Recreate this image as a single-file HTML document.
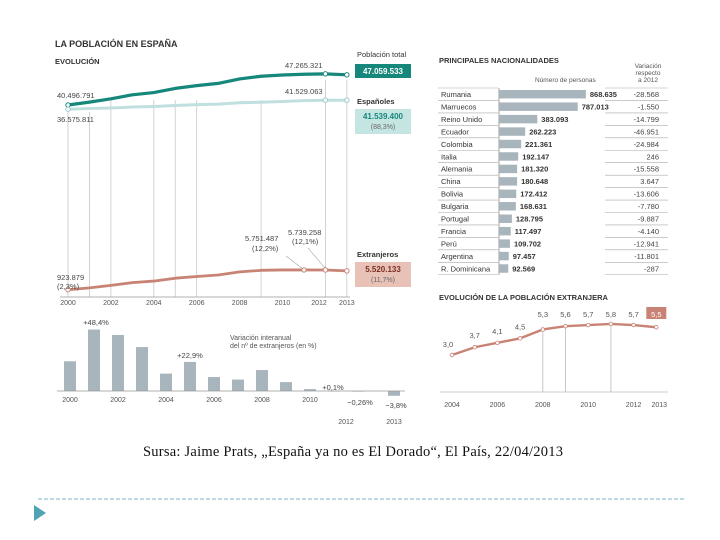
<!DOCTYPE html>
<html><head><meta charset="utf-8">
<style>
body{margin:0;background:#fff;}
svg{display:block;font-family:"Liberation Sans",sans-serif;}
</style></head>
<body>
<svg id="s" width="720" height="540" viewBox="0 0 720 540">
<text x="55" y="47" font-size="9" font-weight="bold" fill="#333">LA POBLACIÓN EN ESPAÑA</text>
<text x="55" y="64" font-size="7.5" font-weight="bold" fill="#333">EVOLUCIÓN</text>
<g id="topchart"></g>
<g id="bars"></g>
<g id="tbl"></g>
<g id="ext"></g>
<text x="143" y="456" font-size="14.5" textLength="420" lengthAdjust="spacing" font-family="Liberation Serif,serif" fill="#111">Sursa: Jaime Prats, „España ya no es El Dorado“, El País, 22/04/2013</text>
<line x1="38" y1="499" x2="686" y2="499" stroke="#7fb3c4" stroke-dasharray="4,2"/>
<polygon points="34,505 46,513 34,521" fill="#4fa3b5"/>
</svg>
<script>
const NS="http://www.w3.org/2000/svg";
function mk(p,t,a,txt){const e=document.createElementNS(NS,t);for(const k in a)e.setAttribute(k,a[k]);if(txt!=null)e.textContent=txt;p.appendChild(e);return e;}

// ===== Top line chart data =====
const years=[2000,2001,2002,2003,2004,2005,2006,2007,2008,2009,2010,2011,2012,2013];
const totalPop=[40.50,41.12,41.84,42.72,43.20,44.11,44.71,45.20,46.16,46.75,47.02,47.19,47.27,47.06];
const spanishPop=[39.58,39.75,39.86,40.06,40.17,40.38,40.57,40.69,40.99,41.10,41.27,41.44,41.53,41.54];
const foreignPop=[0.92,1.37,1.98,2.66,3.03,3.73,4.14,4.52,5.27,5.65,5.75,5.75,5.74,5.52];
const topTickYears=[2000,2002,2004,2006,2008,2010,2012,2013];
const gridYears=[2000,2001,2002,2004,2005,2006,2009,2012,2013];

const topG=document.getElementById('topchart');
const tx=y=>68+(y-2000)*21.45;
const tyHigh=v=>105-(v-40.5)*4.6;
const tyLow=v=>293.5-v*4.1;
gridYears.forEach((y,i)=>{const l=mk(topG,'line',{x1:tx(y),x2:tx(y),y1:y<=2001?112:(y>=2012?80:100),y2:297,stroke:'#c8c8c8','stroke-width':0.8});

});
{const l=mk(topG,'line',{x1:60,x2:350,y1:297,y2:297,stroke:'#999','stroke-width':0.8});

}
topTickYears.forEach(y=>{const t=mk(topG,'text',{x:y===2012?319:tx(y),y:305,'font-size':7,'text-anchor':'middle',fill:'#555'},y);

});
function line(arr,fy,col,w,name){const pts=arr.map((v,i)=>tx(years[i])+','+fy(v)).join(' ');
const p=mk(topG,'polyline',{points:pts,fill:'none',stroke:col,'stroke-width':w,'stroke-linejoin':'round'});

}
line(spanishPop,tyHigh,'#bfe0de',3,'spanish-line');
line(totalPop,tyHigh,'#16877b',3.2,'total-line');
line(foreignPop,tyLow,'#c98375',2.8,'foreign-line');
function dot(x,y,c,name){const d=mk(topG,'circle',{cx:x,cy:y,r:2.2,fill:'#fff',stroke:c,'stroke-width':1});

}
[0,12,13].forEach(i=>dot(tx(years[i]),tyHigh(totalPop[i]),'#16877b','total-point'));
[0,12,13].forEach(i=>dot(tx(years[i]),tyHigh(spanishPop[i]),'#9cc','spanish-point'));
[0,11,12,13].forEach(i=>dot(tx(years[i]),tyLow(foreignPop[i]),'#c98375','foreign-point'));
const labels=[[57,98,'40.496.791','start'],[57,122,'36.575.811','start'],[285,68,'47.265.321','start'],[285,94,'41.529.063','start'],
[57,280,'923.879','start'],[57,289,'(2,3%)','start'],[245,241,'5.751.487','start'],[252,251,'(12,2%)','start'],[288,235,'5.739.258','start'],[292,244,'(12,1%)','start']];
labels.forEach(a=>{const t=mk(topG,'text',{x:a[0],y:a[1],'font-size':7.5,fill:'#444','text-anchor':a[3]},a[2]);

});
mk(topG,'line',{x1:286,y1:256,x2:303,y2:269,stroke:'#777','stroke-width':0.5});
mk(topG,'line',{x1:308,y1:248,x2:325,y2:268,stroke:'#777','stroke-width':0.5});
const legend=[['Población total',57,64,78,'#16877b','#fff','47.059.533',null],['Españoles',104,109,134,'#c5e5e3','#16877b','41.539.400','(88,3%)'],['Extranjeros',257,262,287,'#e8c2b7','#a44','5.520.133','(11,7%)']];
legend.forEach(l=>{const t=mk(topG,'text',{x:357,y:l[1],'font-size':7.5,'font-weight':l[0]==='Población total'?'normal':'bold',fill:'#333'},l[0]);


const r=mk(topG,'rect',{x:355,y:l[2],width:56,height:l[3]-l[2],fill:l[4]});


const v=mk(topG,'text',{x:383,y:l[2]+10,'font-size':8,'font-weight':'bold','text-anchor':'middle',fill:l[5]==='#a44'?'#7a2f22':l[5]},l[6]);


if(l[7]){const p=mk(topG,'text',{x:383,y:l[2]+20,'font-size':7,'text-anchor':'middle',fill:'#666'},l[7]);

}});

// ===== Bar chart =====
const barYears=[2000,2001,2002,2003,2004,2005,2006,2007,2008,2009,2010,2011,2012,2013];
const barValues=[23.4,48.4,44.1,34.6,13.7,22.9,11.0,9.0,16.5,7.0,1.5,0.1,-0.26,-3.8];
const barTickYears=[2000,2002,2004,2006,2008,2010];
const bars=document.getElementById('bars');
const bx=y=>70+(y-2000)*24+(y>=2013?12:0);
const by=v=>391-v*1.27;
barValues.forEach((v,i)=>{const y0=by(Math.max(v,0)),y1=by(Math.min(v,0));
const r=mk(bars,'rect',{x:bx(barYears[i])-6,y:y0,width:12,height:Math.max(y1-y0,0.6),fill:'#a9b5bc'});

});
{const l=mk(bars,'line',{x1:57,x2:405,y1:391,y2:391,stroke:'#999','stroke-width':0.8});

}
barTickYears.forEach(y=>{const t=mk(bars,'text',{x:bx(y),y:402,'font-size':7,'text-anchor':'middle',fill:'#555'},y);

});
[[2012,424],[2013,424]].forEach(a=>{const t=mk(bars,'text',{x:bx(a[0])-(a[0]===2012?12:0),y:a[1],'font-size':7,'text-anchor':'middle',fill:'#555'},a[0]);

});
[[96,325,'+48,4%'],[190,358,'+22,9%'],[333,390,'+0,1%'],[360,405,'−0,26%'],[396,408,'−3,8%']].forEach(a=>{const t=mk(bars,'text',{x:a[0],y:a[1],'font-size':7.5,'text-anchor':'middle',fill:'#444'},a[2]);

});
[[230,340,'Variación interanual'],[230,348,'del nº de extranjeros (en %)']].forEach(a=>{const t=mk(bars,'text',{x:a[0],y:a[1],'font-size':7,fill:'#555'},a[2]);

});

// ===== Nationalities table =====
const countries=['Rumania','Marruecos','Reino Unido','Ecuador','Colombia','Italia','Alemania','China','Bolivia','Bulgaria','Portugal','Francia','Perú','Argentina','R. Dominicana'];
const people=[868635,787013,383093,262223,221361,192147,181320,180648,172412,168631,128795,117497,109702,97457,92569];
const variation=['-28.568','-1.550','-14.799','-46.951','-24.984','246','-15.558','3.647','-13.606','-7.780','-9.887','-4.140','-12.941','-11.801','-287'];
const tbl=document.getElementById('tbl');
const fmt=n=>n.toString().replace(/\B(?=(\d{3})+(?!\d))/g,'.');
mk(tbl,'text',{x:439,y:63,'font-size':7.5,'font-weight':'bold',fill:'#333'},'PRINCIPALES NACIONALIDADES');
mk(tbl,'text',{x:535,y:82,'font-size':6.5,fill:'#555'},'Número de personas');
[['Variación',68],['respecto',75],['a 2012',82]].forEach(a=>mk(tbl,'text',{x:648,y:a[1],'font-size':6.5,'text-anchor':'middle',fill:'#555'},a[0]));
const rowH=12.45,row0=88;
mk(tbl,'line',{x1:499,x2:499,y1:row0,y2:row0+rowH*15,stroke:'#888','stroke-width':0.8});
countries.forEach((c,i)=>{const y=row0+i*rowH;
mk(tbl,'line',{x1:438,x2:498,y1:y,y2:y,stroke:'#aaa','stroke-width':0.6});
mk(tbl,'line',{x1:605,x2:668,y1:y,y2:y,stroke:'#aaa','stroke-width':0.6});
const n=mk(tbl,'text',{x:441,y:y+9,'font-size':7.5,fill:'#333'},c);


const w=people[i]/10000;
const r=mk(tbl,'rect',{x:499,y:y+2,width:w,height:rowH-4,fill:'#a9b5bc'});


const v=mk(tbl,'text',{x:499+w+4,y:y+9,'font-size':7.5,'font-weight':'bold',fill:'#333'},fmt(people[i]));


const d=mk(tbl,'text',{x:659,y:y+9,'font-size':7.5,'text-anchor':'end',fill:'#444'},variation[i]);

});
mk(tbl,'line',{x1:438,x2:498,y1:row0+rowH*15,y2:row0+rowH*15,stroke:'#aaa','stroke-width':0.6});
mk(tbl,'line',{x1:605,x2:668,y1:row0+rowH*15,y2:row0+rowH*15,stroke:'#aaa','stroke-width':0.6});

// ===== Foreign population evolution =====
const extYears=[2004,2005,2006,2007,2008,2009,2010,2011,2012,2013];
const extValues=[3.0,3.7,4.1,4.5,5.3,5.6,5.7,5.8,5.7,5.5];
const extLabels=['3,0','3,7','4,1','4,5','5,3','5,6','5,7','5,8','5,7','5,5'];
const extTickYears=[2004,2006,2008,2010,2012,2013];
const ext=document.getElementById('ext');
const ex=y=>452+(y-2004)*22.7;
const ey=v=>355-(v-3)*11.1;
mk(ext,'text',{x:439,y:300,'font-size':7.5,'font-weight':'bold',fill:'#333'},'EVOLUCIÓN DE LA POBLACIÓN EXTRANJERA');
[2008,2009,2011].forEach(y=>mk(ext,'line',{x1:ex(y),x2:ex(y),y1:ey(extValues[extYears.indexOf(y)]),y2:392,stroke:'#bbb','stroke-width':0.8}));
mk(ext,'line',{x1:440,x2:668,y1:392,y2:392,stroke:'#bbb','stroke-width':0.8});
{const p=mk(ext,'polyline',{points:extValues.map((v,i)=>ex(extYears[i])+','+ey(v)).join(' '),fill:'none',stroke:'#c98375','stroke-width':2.4});

}
extValues.forEach((v,i)=>{const x=ex(extYears[i]),y=ey(v);
const c=mk(ext,'circle',{cx:x,cy:y,r:1.8,fill:'#fff',stroke:'#c98375','stroke-width':0.8});


const last=i===extValues.length-1;
if(last) mk(ext,'rect',{x:x-10,y:307,width:20,height:12,fill:'#c98375'});
const lx=i===0?x-4:x, ly=i===0?y-8:(i>=4?317:y-9);
const t=mk(ext,'text',{x:lx,y:ly,'font-size':7.5,'text-anchor':'middle',fill:last?'#fff':'#555'},extLabels[i]);

});
extTickYears.forEach(y=>{const t=mk(ext,'text',{x:ex(y)+(y===2013?3:0),y:407,'font-size':7,'text-anchor':'middle',fill:'#555'},y);

});
</script>
</body></html>
